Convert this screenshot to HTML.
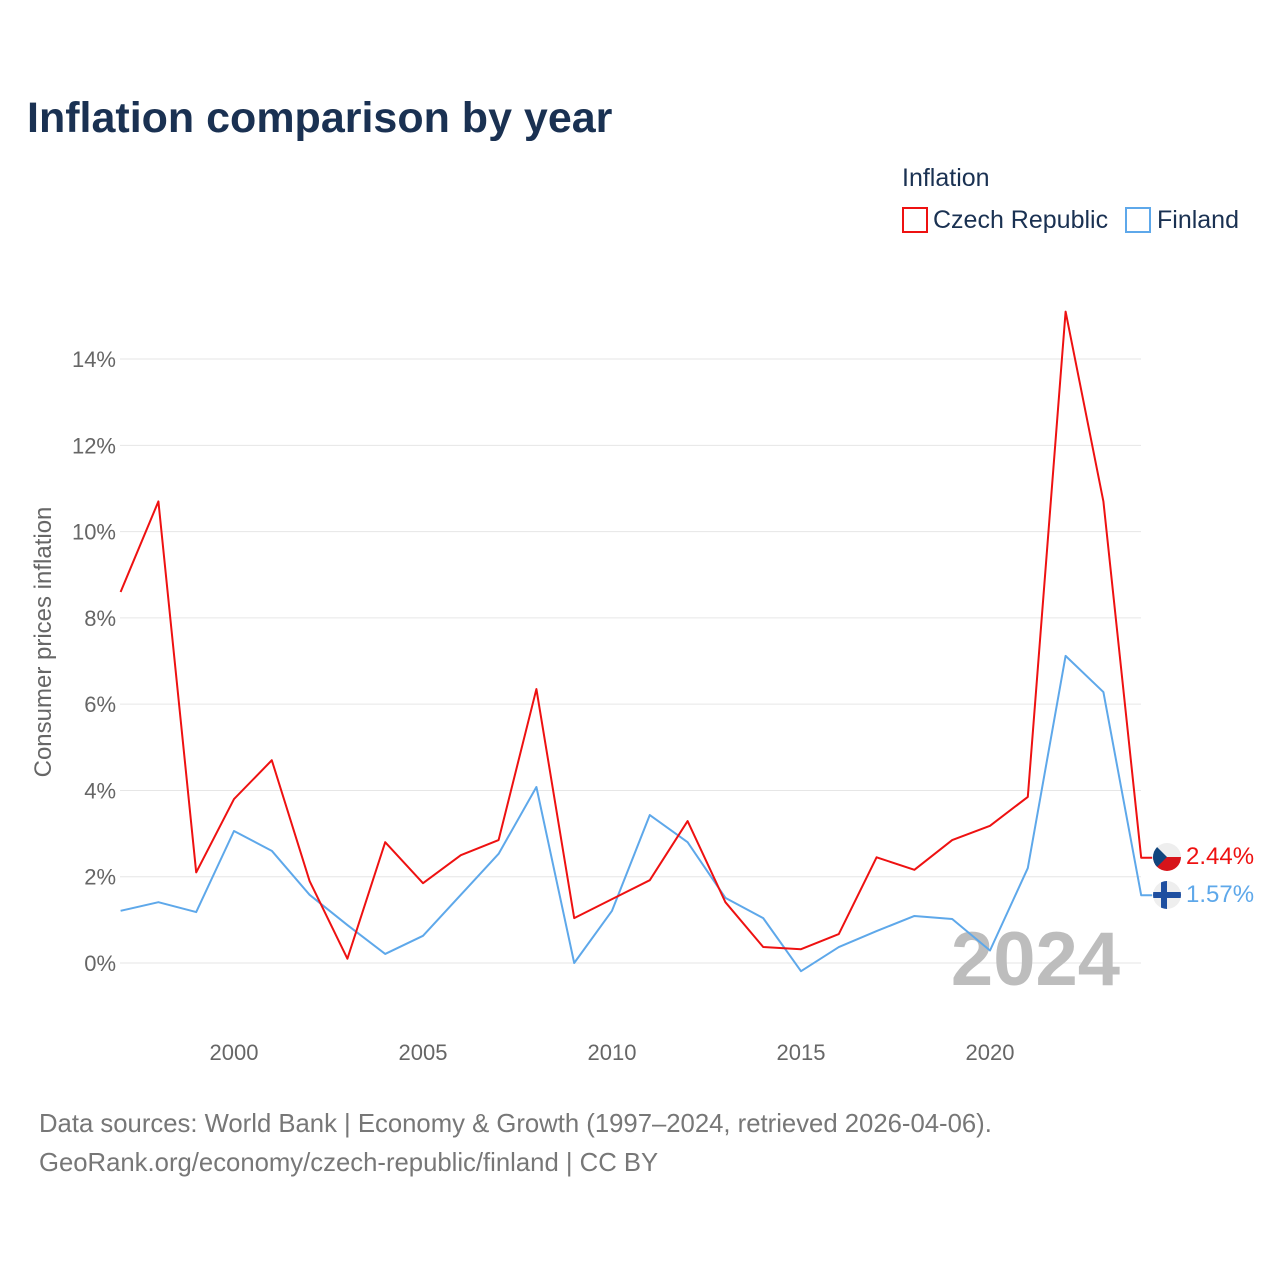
<!DOCTYPE html>
<html><head><meta charset="utf-8"><style>
body{margin:0;background:#fff;font-family:"Liberation Sans",sans-serif;}
svg text{font-family:"Liberation Sans",sans-serif;}
</style></head><body>
<svg width="1280" height="1280" viewBox="0 0 1280 1280">
<text x="27" y="132" font-size="43" font-weight="bold" fill="#1a3152">Inflation comparison by year</text>
<g>
<text x="902" y="186" font-size="25" fill="#1a3152">Inflation</text>
<g><rect x="903" y="208" width="24" height="24" fill="none" stroke="#ee1111" stroke-width="2"/><text x="933" y="228" font-size="25" fill="#1a3152">Czech Republic</text></g>
<g><rect x="1126" y="208" width="24" height="24" fill="none" stroke="#5ea8ea" stroke-width="2"/><text x="1157" y="228" font-size="25" fill="#1a3152">Finland</text></g>
</g>
<g id="grid"></g>
<g id="yticks"></g>
<g id="xticks"></g>
<text x="0" y="0" transform="translate(51,642) rotate(-90)" text-anchor="middle" font-size="24" fill="#666">Consumer prices inflation</text>
<text x="1120" y="985" text-anchor="end" font-size="76" font-weight="bold" fill="#bdbdbd">2024</text>
<g id="series"></g>
<g>
<clipPath id="c1"><circle cx="1167" cy="857" r="14"/></clipPath>
<g clip-path="url(#c1)"><rect x="1153" y="843" width="28" height="14" fill="#eee"/><rect x="1153" y="857" width="28" height="14" fill="#d7141a"/><polygon points="1153,843 1167,857 1153,871" fill="#11457e"/></g></g>
<g>
<clipPath id="c2"><circle cx="1167" cy="895" r="14"/></clipPath>
<g clip-path="url(#c2)"><rect x="1153" y="881" width="28" height="28" fill="#eee"/><rect x="1153" y="892" width="28" height="6" fill="#1e4fa0"/><rect x="1161" y="881" width="6" height="28" fill="#1e4fa0"/></g></g>
<text id="lbl1" x="1186" y="864" font-size="24" fill="#ee1111"></text>
<text id="lbl2" x="1186" y="902" font-size="24" fill="#5ea8ea"></text>
<text x="39" y="1132" font-size="25.7" fill="#777">Data sources: World Bank | Economy &amp; Growth (1997–2024, retrieved 2026-04-06).</text>
<text x="39" y="1171" font-size="25.7" fill="#777">GeoRank.org/economy/czech-republic/finland | CC BY</text>
</svg>
<script>
const years=[1997,1998,1999,2000,2001,2002,2003,2004,2005,2006,2007,2008,2009,2010,2011,2012,2013,2014,2015,2016,2017,2018,2019,2020,2021,2022,2023,2024];
const czech=[8.6,10.7,2.1,3.8,4.7,1.9,0.1,2.8,1.85,2.5,2.85,6.35,1.04,1.48,1.92,3.29,1.41,0.37,0.32,0.67,2.45,2.16,2.85,3.18,3.85,15.1,10.7,2.44];
const finland=[1.21,1.41,1.18,3.06,2.6,1.58,0.88,0.21,0.63,1.58,2.53,4.08,0,1.21,3.43,2.8,1.51,1.04,-0.19,0.37,0.74,1.09,1.02,0.29,2.2,7.12,6.28,1.57];
const yTicks=[0,2,4,6,8,10,12,14];
const xTicks=[2000,2005,2010,2015,2020];
const NS="http://www.w3.org/2000/svg";
const X=y=>120.6+(y-1997)*37.8;
const Y=v=>963-v*43.14;
function mk(t,a,p){const e=document.createElementNS(NS,t);for(const k in a)e.setAttribute(k,a[k]);p.appendChild(e);return e;}
const grid=document.getElementById('grid'),yt=document.getElementById('yticks'),xt=document.getElementById('xticks'),ser=document.getElementById('series');
yTicks.forEach(v=>{
 const l=mk('line',{x1:120,x2:1141,y1:Y(v),y2:Y(v),stroke:'#e6e6e6','stroke-width':1},grid);
 
 
 const t=mk('text',{x:116,y:Y(v)+8,'text-anchor':'end','font-size':22,fill:'#666'},yt);
 t.textContent=v+'%';
 
 
});
xTicks.forEach(v=>{
 const t=mk('text',{x:X(v),y:1060,'text-anchor':'middle','font-size':22,fill:'#666'},xt);
 t.textContent=v;
 
 
});
function line(d,c,name){
 const last=d[d.length-1];
 const pts=d.map((v,i)=>X(years[i])+','+Y(v)).join(' ')+' '+(X(years[years.length-1])+11)+','+Y(last);
 const p=mk('polyline',{points:pts,fill:'none',stroke:c,'stroke-width':2,'stroke-linejoin':'round'},ser);
 
 
}
line(finland,'#5ea8ea','finland-line');
line(czech,'#ee1111','czech-line');
document.getElementById('lbl1').textContent=czech[czech.length-1].toFixed(2)+'%';
document.getElementById('lbl2').textContent=finland[finland.length-1].toFixed(2)+'%';
</script>
</body></html>
